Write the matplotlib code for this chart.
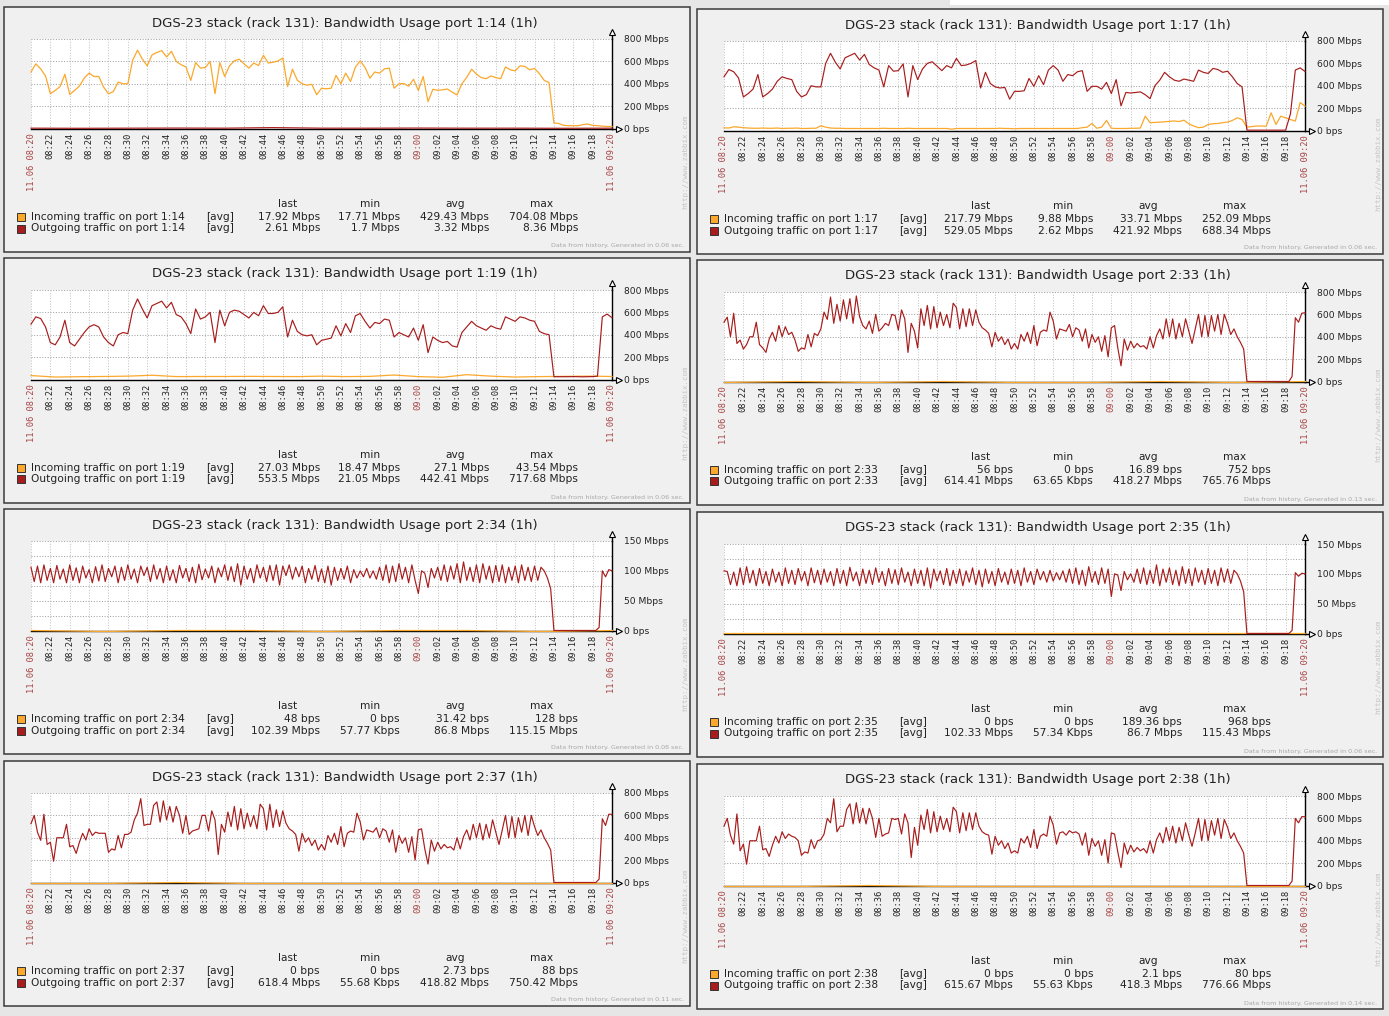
import numpy as np
import matplotlib.pyplot as plt
from matplotlib.patches import Rectangle

# размер картинки в пикселях
W, H = 1389, 1016

time_labels = ["11.06 08:20", "08:22", "08:24", "08:26", "08:28", "08:30", "08:32",
               "08:34", "08:36", "08:38", "08:40", "08:42", "08:44", "08:46", "08:48",
               "08:50", "08:52", "08:54", "08:56", "08:58", "09:00", "09:02", "09:04",
               "09:06", "09:08", "09:10", "09:12", "09:14", "09:16", "09:18", "11.06 09:20"]
red_labels = ["11.06 08:20", "09:00", "11.06 09:20"]

# трафик, Mbps (шаг 30 с для портов 1:xx, 20 с для 2:xx)
in_114 = [504, 578, 533, 470, 311, 340, 375, 485, 305, 340,
          380, 450, 495, 465, 465, 370, 310, 330, 415, 400,
          400, 610, 700, 620, 560, 658, 680, 696, 640, 690,
          600, 570, 550, 430, 590, 540, 545, 600, 311, 590,
          465, 560, 605, 620, 578, 540, 585, 563, 655, 585,
          592, 603, 630, 375, 530, 432, 400, 387, 395, 302,
          360, 355, 360, 475, 400, 495, 420, 548, 605, 545,
          450, 505, 495, 533, 540, 360, 400, 402, 378, 440,
          340, 465, 240, 350, 342, 346, 353, 325, 300, 400,
          457, 530, 486, 455, 445, 470, 455, 445, 550, 525,
          515, 560, 555, 525, 537, 490, 430, 410, 50, 45,
          28, 25, 25, 25, 35, 40, 28, 25, 21, 18, 18]
out_114 = [3, 2, 3, 4, 3, 8, 3, 3, 4, 3, 3, 2, 3]

in_117 = [24, 22, 33, 30, 25, 22, 20, 20, 22, 20,
          20, 22, 18, 20, 20, 22, 18, 18, 20, 20,
          42, 30, 22, 20, 20, 18, 18, 18, 18, 18,
          18, 18, 18, 20, 18, 18, 18, 18, 20, 18,
          18, 18, 18, 18, 18, 18, 18, 12, 18, 18,
          18, 18, 18, 18, 18, 18, 18, 20, 18, 18,
          15, 18, 18, 18, 18, 18, 18, 18, 18, 18,
          18, 18, 18, 18, 25, 30, 63, 20, 30, 90,
          20, 18, 18, 18, 20, 20, 22, 128, 70, 72,
          75, 78, 82, 85, 80, 92, 60, 40, 25, 30,
          54, 60, 63, 70, 75, 90, 113, 98, 30, 35,
          40, 40, 38, 158, 54, 128, 113, 98, 84, 250, 218]
out_117 = [480, 545, 525, 470, 300, 330, 370, 500, 300, 330,
           370, 440, 480, 465, 455, 350, 300, 320, 400, 390,
           390, 600, 690, 610, 550, 650, 670, 690, 630, 680,
           590, 560, 540, 390, 580, 530, 535, 595, 300, 580,
           455, 550, 600, 615, 575, 535, 580, 560, 645, 580,
           585, 600, 625, 380, 520, 420, 390, 380, 385, 280,
           350, 350, 355, 465, 395, 490, 410, 540, 580, 540,
           440, 500, 490, 525, 535, 350, 395, 395, 370, 430,
           330, 455, 220, 340, 335, 340, 345, 320, 285, 400,
           450, 520, 480, 450, 440, 460, 450, 440, 540, 520,
           510, 555, 545, 520, 530, 480, 420, 390, 3, 3,
           3, 3, 3, 3, 3, 3, 3, 150, 540, 560, 528]

in_119 = [35, 22, 25, 27, 30, 38, 26, 27, 27, 28, 27, 26, 30,
          26, 28, 40, 26, 20, 43, 30, 22, 26, 28, 30, 27]
out_119 = [495, 560, 545, 470, 330, 310, 380, 530, 330, 300,
           360, 420, 470, 490, 470, 380, 330, 300, 400, 420,
           410, 620, 720, 630, 550, 660, 680, 700, 640, 690,
           580, 560, 500, 410, 630, 540, 560, 600, 330, 620,
           480, 600, 620, 610, 580, 550, 600, 570, 660, 590,
           590, 600, 650, 380, 530, 430, 400, 390, 400, 310,
           350, 360, 370, 480, 390, 500, 420, 570, 590, 520,
           460, 510, 500, 540, 530, 380, 420, 400, 380, 460,
           350, 490, 240, 380, 350, 330, 340, 300, 290, 420,
           470, 520, 480, 460, 440, 480, 460, 450, 560, 540,
           520, 560, 550, 530, 520, 430, 410, 400, 25, 25,
           25, 25, 26, 25, 24, 25, 26, 30, 560, 585, 552]

in_233_bps = [0, 56, 0, 752, 0, 0, 16, 0, 56]
out_233 = [530, 575, 400, 610, 340, 370,
           290, 330, 400, 400, 530, 330,
           300, 260, 380, 440, 360, 500,
           400, 490, 420, 440, 370, 270,
           300, 290, 420, 310, 430, 410,
           470, 620, 555, 755, 520, 690,
           540, 730, 560, 740, 520, 765,
           580, 500, 470, 540, 430, 600,
           450, 480, 520, 500, 600, 590,
           460, 640, 560, 260, 520, 450,
           300, 650, 500, 680, 470, 670,
           480, 620, 500, 600, 480, 700,
           660, 470, 650, 490, 650, 500,
           640, 530, 480, 460, 430, 310,
           440, 360, 400, 330, 380, 290,
           340, 290, 420, 360, 440, 340,
           500, 320, 440, 460, 450, 620,
           540, 380, 470, 460, 450, 510,
           400, 480, 460, 360, 470, 300,
           420, 350, 400, 270, 410, 220,
           480, 500, 300, 140, 380, 280,
           360, 300, 340, 310, 320, 290,
           400, 300, 410, 470, 380, 560,
           400, 560, 380, 520, 400, 560,
           450, 340, 470, 600, 400, 590,
           400, 590, 450, 600, 420, 600,
           520, 420, 470, 400, 350, 290,
           0.06, 0.06, 0.06, 0.06, 0.06, 0.06,
           0.06, 0.06, 0.06, 0.06, 0.06, 0.06,
           0.06, 0.06, 45, 570, 530, 610,
           615]

in_234_bps = [48, 0, 32, 128, 0, 48, 32, 0, 48]
out_234 = [106, 82, 108, 80, 110, 84,
           104, 80, 109, 86, 103, 80,
           110, 84, 105, 80, 108, 88,
           102, 80, 107, 83, 110, 82,
           104, 90, 108, 80, 106, 84,
           110, 86, 103, 80, 108, 92,
           106, 82, 110, 86, 104, 80,
           108, 84, 102, 80, 109, 88,
           104, 82, 106, 80, 111, 85,
           103, 88, 108, 80, 105, 90,
           110, 84, 107, 82, 112, 76,
           108, 86, 104, 80, 110, 88,
           106, 82, 109, 84, 110, 76,
           108, 92, 110, 86, 106, 90,
           108, 80, 104, 86, 109, 82,
           103, 80, 108, 76, 106, 84,
           104, 86, 108, 80, 102, 88,
           100, 90, 104, 88, 100, 86,
           106, 84, 110, 80, 108, 82,
           112, 86, 106, 80, 110, 84,
           62, 100, 96, 72, 104, 88,
           106, 84, 110, 82, 108, 86,
           112, 80, 115, 84, 106, 82,
           110, 80, 112, 86, 108, 80,
           109, 82, 110, 80, 106, 84,
           108, 80, 110, 84, 106, 82,
           108, 84, 106, 100, 88, 70,
           0.06, 0.06, 0.06, 0.06, 0.06, 0.06,
           0.06, 0.06, 0.06, 0.06, 0.06, 0.06,
           0.06, 0.06, 5, 100, 90, 102,
           100]

in_235_bps = [0, 968, 0, 189, 0, 0, 968, 0, 0]
out_235 = [105, 104, 82, 103, 80, 110,
           82, 112, 85, 106, 80, 109,
           84, 104, 80, 108, 86, 103,
           80, 110, 84, 106, 82, 109,
           88, 104, 80, 110, 85, 106,
           82, 108, 86, 104, 80, 109,
           84, 106, 80, 111, 88, 103,
           80, 108, 84, 106, 82, 110,
           86, 104, 80, 109, 84, 107,
           82, 110, 86, 103, 80, 108,
           84, 106, 80, 110, 76, 108,
           88, 105, 82, 109, 80, 106,
           84, 108, 80, 105, 86, 110,
           82, 106, 78, 108, 84, 104,
           80, 109, 86, 103, 82, 108,
           84, 106, 80, 110, 86, 104,
           82, 108, 90, 104, 86, 106,
           88, 102, 90, 105, 86, 108,
           84, 110, 82, 106, 80, 112,
           86, 104, 82, 110, 84, 108,
           62, 100, 98, 72, 104, 90,
           100, 86, 108, 84, 110, 82,
           106, 84, 115, 80, 108, 86,
           110, 82, 106, 80, 112, 84,
           108, 80, 110, 86, 106, 82,
           109, 84, 106, 80, 110, 86,
           108, 84, 106, 100, 88, 70,
           0.06, 0.06, 0.06, 0.06, 0.06, 0.06,
           0.06, 0.06, 0.06, 0.06, 0.06, 0.06,
           0.06, 0.06, 5, 102, 96, 101,
           100]

in_237_bps = [0, 0, 88, 0, 0, 0, 0, 0, 0]
out_237 = [526, 600, 450, 377, 610, 340,
           360, 190, 400, 400, 400, 520,
           320, 330, 260, 360, 440, 380,
           480, 420, 450, 440, 440, 440,
           270, 300, 290, 420, 310, 430,
           430, 450, 560, 620, 750, 510,
           520, 520, 690, 720, 540, 730,
           560, 680, 540, 680, 600, 440,
           600, 430, 460, 470, 480, 600,
           600, 460, 640, 560, 250, 520,
           450, 630, 500, 680, 470, 660,
           480, 620, 500, 600, 480, 700,
           660, 470, 700, 490, 650, 500,
           640, 530, 480, 460, 430, 280,
           440, 360, 400, 330, 380, 290,
           340, 290, 420, 360, 440, 340,
           500, 320, 440, 460, 450, 620,
           540, 380, 470, 460, 450, 490,
           400, 480, 460, 360, 470, 270,
           420, 350, 400, 270, 410, 200,
           470, 480, 300, 165, 380, 280,
           360, 300, 340, 310, 320, 290,
           400, 300, 410, 470, 380, 520,
           400, 530, 380, 520, 400, 560,
           450, 340, 470, 600, 400, 590,
           400, 580, 450, 600, 420, 600,
           500, 420, 470, 400, 350, 290,
           0.06, 0.06, 0.06, 0.06, 0.06, 0.06,
           0.06, 0.06, 0.06, 0.06, 0.06, 0.06,
           0.06, 0.06, 30, 570, 510, 610,
           610]

in_238_bps = [0, 0, 80, 0, 0, 0, 0, 0, 0]
out_238 = [530, 600, 450, 370, 640, 310,
           370, 190, 400, 400, 400, 530,
           320, 330, 260, 360, 440, 380,
           480, 420, 460, 440, 430, 400,
           270, 300, 290, 410, 330, 400,
           410, 460, 600, 560, 776, 480,
           530, 530, 680, 730, 550, 740,
           560, 690, 550, 690, 600, 430,
           600, 440, 460, 470, 600, 590,
           600, 460, 640, 560, 250, 520,
           360, 630, 500, 680, 470, 660,
           480, 620, 500, 600, 480, 700,
           660, 470, 650, 490, 650, 500,
           650, 530, 480, 460, 450, 280,
           440, 360, 400, 330, 380, 290,
           310, 290, 420, 380, 440, 340,
           500, 330, 440, 460, 440, 620,
           540, 370, 470, 480, 450, 490,
           470, 480, 460, 360, 470, 270,
           420, 350, 400, 270, 410, 200,
           470, 460, 300, 160, 380, 280,
           360, 300, 340, 310, 330, 290,
           400, 290, 410, 470, 380, 520,
           400, 530, 380, 520, 400, 560,
           450, 350, 470, 600, 400, 590,
           400, 580, 450, 600, 420, 590,
           520, 420, 470, 400, 350, 290,
           0.06, 0.06, 0.06, 0.06, 0.06, 0.06,
           0.06, 0.06, 0.06, 0.06, 0.06, 0.06,
           0.06, 0.06, 40, 600, 560, 615,
           615]

# легенда: last, min, avg, max
stats_114 = [["17.92 Mbps", "17.71 Mbps", "429.43 Mbps", "704.08 Mbps"],
             ["2.61 Mbps", "1.7 Mbps", "3.32 Mbps", "8.36 Mbps"]]
stats_117 = [["217.79 Mbps", "9.88 Mbps", "33.71 Mbps", "252.09 Mbps"],
             ["529.05 Mbps", "2.62 Mbps", "421.92 Mbps", "688.34 Mbps"]]
stats_119 = [["27.03 Mbps", "18.47 Mbps", "27.1 Mbps", "43.54 Mbps"],
             ["553.5 Mbps", "21.05 Mbps", "442.41 Mbps", "717.68 Mbps"]]
stats_233 = [["56 bps", "0 bps", "16.89 bps", "752 bps"],
             ["614.41 Mbps", "63.65 Kbps", "418.27 Mbps", "765.76 Mbps"]]
stats_234 = [["48 bps", "0 bps", "31.42 bps", "128 bps"],
             ["102.39 Mbps", "57.77 Kbps", "86.8 Mbps", "115.15 Mbps"]]
stats_235 = [["0 bps", "0 bps", "189.36 bps", "968 bps"],
             ["102.33 Mbps", "57.34 Kbps", "86.7 Mbps", "115.43 Mbps"]]
stats_237 = [["0 bps", "0 bps", "2.73 bps", "88 bps"],
             ["618.4 Mbps", "55.68 Kbps", "418.82 Mbps", "750.42 Mbps"]]
stats_238 = [["0 bps", "0 bps", "2.1 bps", "80 bps"],
             ["615.67 Mbps", "55.63 Kbps", "418.3 Mbps", "776.66 Mbps"]]

scale_800 = ([0, 200, 400, 600, 800], ["0 bps", "200 Mbps", "400 Mbps", "600 Mbps", "800 Mbps"], [])
scale_150 = ([0, 50, 100, 150], ["0 bps", "50 Mbps", "100 Mbps", "150 Mbps"], [25, 75, 125])

panels = [
    ("1:14", in_114, out_114, stats_114, "0.06", scale_800),
    ("1:17", in_117, out_117, stats_117, "0.06", scale_800),
    ("1:19", in_119, out_119, stats_119, "0.06", scale_800),
    ("2:33", [v / 1e6 for v in in_233_bps], out_233, stats_233, "0.13", scale_800),
    ("2:34", [v / 1e6 for v in in_234_bps], out_234, stats_234, "0.08", scale_150),
    ("2:35", [v / 1e6 for v in in_235_bps], out_235, stats_235, "0.06", scale_150),
    ("2:37", [v / 1e6 for v in in_237_bps], out_237, stats_237, "0.11", scale_800),
    ("2:38", [v / 1e6 for v in in_238_bps], out_238, stats_238, "0.14", scale_800),
]

# раскладка панелей (пиксели)
COL_X = [4, 697]
ROW_Y = [[7, 258, 509, 761], [9, 260, 512, 764]]
PW, PH = 686, 245
IN_COLOR = '#fba82c'
OUT_COLOR = '#a81c1c'
RED_TXT = '#a84444'

fig = plt.figure(figsize=(W / 100, H / 100), dpi=100, facecolor='#e6e6e6')
fig.add_artist(Rectangle((950 / W, 1 - 5 / H), (W - 950) / W, 5 / H,
                         transform=fig.transFigure, facecolor='white', edgecolor='none', zorder=-2))


def fxy(x, y):
    return x / W, 1 - y / H


def draw_panel(x0, y0, port, vin, vout, stats, gen, scale):
    fig.add_artist(Rectangle(fxy(x0, y0 + PH), PW / W, PH / H, transform=fig.transFigure,
                             facecolor='#f0f0f0', edgecolor='#3a3a3a', lw=1.1, zorder=-1))
    fig.text(*fxy(x0 + 341, y0 + 16), f"DGS-23 stack (rack 131): Bandwidth Usage port {port} (1h)",
             ha='center', va='center', fontsize=9.5, color='#222222')

    pw, ph = 581, 89.5
    l, b = fxy(x0 + 27, y0 + 121.5)
    ax = fig.add_axes([l, b, pw / W, ph / H])
    ax.set_facecolor('white')
    major, labels, minor = scale
    ax.set_xlim(0, 60)
    ax.set_ylim(0, major[-1])
    for s in ['left', 'top']:
        ax.spines[s].set_visible(False)
    for s in ['right', 'bottom']:
        ax.spines[s].set_color('black')
        ax.spines[s].set_linewidth(1.0)

    ax.set_xticks(np.arange(0, 61, 2))
    ax.set_xticklabels(time_labels, rotation=90, family='DejaVu Sans Mono', fontsize=6.3)
    for lab in ax.get_xticklabels():
        lab.set_color(RED_TXT if lab.get_text() in red_labels else '#222222')
    ax.tick_params(axis='x', length=0, pad=3.2)

    ax.yaxis.tick_right()
    ax.set_yticks(major, labels)
    ax.set_yticks(minor, minor=True)
    ax.tick_params(axis='y', which='both', length=0, pad=8.6, labelsize=6.6, labelcolor='#222222')
    ax.grid(True, axis='x', color='#c4c4c4', ls=(0, (1, 1.6)), lw=0.75)
    ax.grid(True, axis='y', which='both', color='#a4a4a4', ls=(0, (1, 1.6)), lw=0.75)

    # стрелки осей
    ax.plot([1, 1], [1, 1 + 8 / ph], transform=ax.transAxes, color='black', lw=1.0, clip_on=False)
    ax.plot([1], [1 + 7 / ph], transform=ax.transAxes, marker='^', ms=5, mfc='white',
            mec='black', mew=0.8, clip_on=False)
    ax.plot([1, 1 + 8 / pw], [0, 0], transform=ax.transAxes, color='black', lw=1.0, clip_on=False)
    ax.plot([1 + 7 / pw], [0], transform=ax.transAxes, marker='>', ms=5, mfc='white',
            mec='black', mew=0.8, clip_on=False)

    ax.plot(np.linspace(0, 60, len(vin)), vin, color=IN_COLOR, lw=0.9, clip_on=False, zorder=3)
    ax.plot(np.linspace(0, 60, len(vout)), vout, color=OUT_COLOR, lw=0.85, clip_on=False, zorder=3)

    # легенда
    for cx, h in zip([284, 366, 451, 538], ["last", "min", "avg", "max"]):
        fig.text(*fxy(x0 + cx, y0 + 197), h, ha='center', va='center', fontsize=7.7, color='#222222')
    names = [f"Incoming traffic on port {port}", f"Outgoing traffic on port {port}"]
    for ry, name, col, row in zip([210, 221.5], names, [IN_COLOR, OUT_COLOR], stats):
        fig.add_artist(Rectangle(fxy(x0 + 13, y0 + ry + 4), 8 / W, 8 / H, transform=fig.transFigure,
                                 facecolor=col, edgecolor='#333333', lw=0.7))
        fig.text(*fxy(x0 + 27, y0 + ry), name, ha='left', va='center', fontsize=7.7, color='#222222')
        fig.text(*fxy(x0 + 202, y0 + ry), "[avg]", ha='left', va='center', fontsize=7.7, color='#222222')
        for rx, val in zip([316, 396, 485, 574], row):
            fig.text(*fxy(x0 + rx, y0 + ry), val, ha='right', va='center', fontsize=7.7, color='#222222')

    fig.text(*fxy(x0 + 680, y0 + 239), f"Data from history. Generated in {gen} sec.",
             ha='right', va='center', fontsize=4.6, color='#a8a8a8')
    fig.text(*fxy(x0 + 681, y0 + 155), "http://www.zabbix.com", rotation=90, ha='center',
             va='center', fontsize=5.4, color='#c4c4c4', family='DejaVu Sans Mono')


for i, p in enumerate(panels):
    col, row = i % 2, i // 2
    draw_panel(COL_X[col], ROW_Y[col][row], *p)

fig.savefig('out.png', dpi=100, facecolor=fig.get_facecolor())
